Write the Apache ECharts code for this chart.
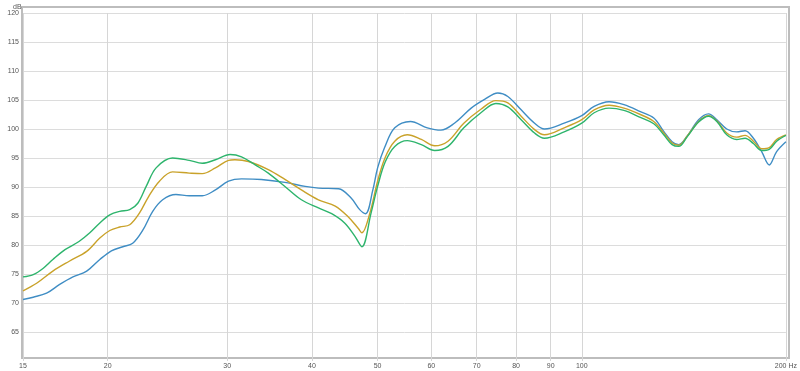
<!DOCTYPE html>
<html><head><meta charset="utf-8">
<script src="https://cdn.jsdelivr.net/npm/echarts@6/dist/echarts.min.js"></script>
<style>html,body{margin:0;padding:0;background:#fff}#c{width:800px;height:371px}</style>
</head><body><div id="c"></div>
<script>
const xTicks = [15, 20, 30, 40, 50, 60, 70, 80, 90, 100, 200];

const blueFreq = [15,15.53,16.25,16.99,17.77,18.62,19.47,20.25,21.05,21.77,22.54,23.3,24.1,25.21,26.37,27.57,28.83,30.14,31.5,33.7,36.5,39.1,40.9,43.8,45.7,47.05,48.0,49.2,50,51.2,53.0,55.9,59.2,62.0,64.9,68.7,71.9,75.2,77.8,81.4,85.2,88.1,94.2,100,104.3,109.7,115.4,122,127.7,132.1,135.9,139,142.9,148.7,153.8,158.2,163.6,169.2,174.1,179.1,184.2,189,193.8,200];
const blueDb = [70.6,71.0,71.7,73.2,74.5,75.5,77.5,79.0,79.7,80.3,82.6,85.8,87.8,88.7,88.5,88.5,89.5,91.0,91.4,91.3,90.8,90.1,89.8,89.7,88.1,86.1,85.4,89.5,93.3,96.8,100.2,101.3,100.2,99.8,101.0,103.6,105.1,106.2,105.6,103.3,101.0,100.0,101.0,102.3,103.9,104.7,104.2,103.0,101.9,99.6,97.8,97.3,98.7,101.6,102.6,101.6,100.0,99.5,99.7,98.4,96.1,93.8,96.1,97.8];

const goldFreq = [15,15.71,16.6,17.55,18.62,19.47,20.14,20.83,21.55,22.27,22.99,23.84,24.92,26.37,27.57,28.83,30.14,30.8,32.25,34.5,36.5,38.6,40.9,43.3,45.2,46.8,47.4,48.7,50,51.3,53.0,55.3,58.0,60.7,63.5,67.0,71.0,74.7,77.8,81.4,85.2,88.1,94.2,100,104.3,109.7,115.4,122,127.7,132.1,135.9,139,142.9,148.7,153.8,158.2,163.6,169.2,174.1,179.1,184.2,189,193.8,200];
const goldDb = [72.1,73.4,75.5,77.2,78.9,81.2,82.5,83.1,83.5,85.5,88.4,91.0,92.6,92.4,92.3,93.3,94.6,94.7,94.4,93.0,91.3,89.5,87.8,86.7,84.9,82.9,82.1,85.5,91.0,95.1,97.9,99.0,98.2,97.1,97.9,101.0,103.4,104.9,104.5,102.2,99.9,99.0,100.2,101.6,103.3,104.1,103.6,102.5,101.3,99.3,97.6,97.2,98.7,101.3,102.3,101.4,99.3,98.6,98.9,97.9,96.6,96.8,98.2,99.0];

const greenFreq = [15,15.53,16.07,16.6,17.3,18.14,18.82,19.47,20.14,20.83,21.55,22.15,22.79,23.57,24.92,26.37,27.57,28.83,30.3,31.5,33.0,34.5,36.5,38.6,40.9,42.78,44.7,46.3,47.4,48.9,50,51.3,53.0,55.3,58.0,60.7,63.5,67.0,71.0,74.7,77.8,81.4,85.2,88.1,94.2,100,104.3,109.7,115.4,122,127.7,132.1,135.9,139,142.9,148.7,153.8,158.2,163.6,169.2,174.1,179.1,184.2,189,193.8,200];
const greenDb = [74.5,74.9,76.0,77.5,79.2,80.6,82.1,83.8,85.2,85.8,86.1,87.2,90.1,93.3,95.0,94.6,94.1,94.7,95.6,95.2,93.8,92.4,90.1,87.8,86.4,85.4,83.8,81.5,79.7,85.5,90.1,94.3,97.0,98.0,97.3,96.3,97.0,100.2,102.8,104.4,103.8,101.6,99.3,98.4,99.5,101.0,102.8,103.6,103.2,102.0,100.9,99.0,97.3,97.0,98.6,101.2,102.2,101.3,99.0,98.2,98.4,97.5,96.3,96.5,97.9,98.9];

function pairs(f, d) { return f.map((v, i) => [v, d[i]]); }

const font = 'Liberation Sans';
const txt = '#555';
const chart = echarts.init(document.getElementById('c'), null, {renderer: 'canvas'});
chart.setOption({
  animation: false,
  backgroundColor: '#fff',
  title: {text: 'dB', left: 8, top: -1, textStyle: {fontSize: 7, fontWeight: 'normal', color: txt, fontFamily: font}},
  grid: [
    {left: 23, right: 11, top: 13, height: 348, show: false},
    {left: 22, right: 11, top: 7, bottom: 13, show: true, borderColor: '#bdbdbd', borderWidth: 2, backgroundColor: 'transparent'}
  ],
  xAxis: [
    {gridIndex: 0, type: 'log', logBase: 10, min: 15, max: 200,
     axisLine: {show: false}, axisTick: {show: false, customValues: xTicks},
     axisLabel: {customValues: xTicks, fontSize: 7, color: txt, fontFamily: font, margin: 2,
       formatter: v => (Math.round(v) === 200 ? '200 Hz' : String(Math.round(v)))},
     splitLine: {show: true, lineStyle: {color: '#d6d6d6', width: 1}}},
    {gridIndex: 1, type: 'value', show: false, min: 0, max: 1}
  ],
  yAxis: [
    {gridIndex: 0, type: 'value', min: 60, max: 120, interval: 5,
     axisLine: {show: false}, axisTick: {show: false},
     axisLabel: {showMinLabel: false, fontSize: 7, color: txt, fontFamily: font, margin: 4},
     splitLine: {show: true, showMinLine: false, lineStyle: {color: '#dcdcdc', width: 1}}},
    {gridIndex: 1, type: 'value', show: false, min: 0, max: 1}
  ],
  series: [
    {name: 'Blue', type: 'line', xAxisIndex: 0, yAxisIndex: 0, data: pairs(blueFreq, blueDb), smooth: 0.35, showSymbol: false, lineStyle: {color: '#3f8dc4', width: 1.4}, z: 3},
    {name: 'Gold', type: 'line', xAxisIndex: 0, yAxisIndex: 0, data: pairs(goldFreq, goldDb), smooth: 0.35, showSymbol: false, lineStyle: {color: '#c9a22a', width: 1.4}, z: 4},
    {name: 'Green', type: 'line', xAxisIndex: 0, yAxisIndex: 0, data: pairs(greenFreq, greenDb), smooth: 0.35, showSymbol: false, lineStyle: {color: '#2db46c', width: 1.4}, z: 5}
  ]
});
</script></body></html>
